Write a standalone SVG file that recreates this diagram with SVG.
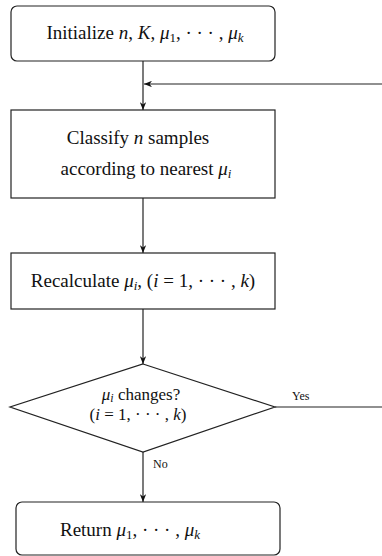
<svg xmlns="http://www.w3.org/2000/svg" width="382" height="556" viewBox="0 0 382 556">
<style>
.box{fill:#fff;stroke:#222;stroke-width:1.2}
.t{font-family:"Liberation Serif","DejaVu Serif",serif;font-size:19px;fill:#111;text-anchor:middle}
.d{font-size:17px}
.i{font-style:italic}
.s{font-size:13px}
.lbl{font-family:"Liberation Serif","DejaVu Serif",serif;font-size:12px;fill:#111}
.ln{fill:none;stroke:#222;stroke-width:1.2}
</style>
<defs>
<marker id="ah" viewBox="0 0 10 8" refX="10" refY="4" markerWidth="8" markerHeight="6.4" orient="auto" markerUnits="userSpaceOnUse">
<path d="M0,0 L10,4 L0,8 L3,4 Z" fill="#111"/>
</marker>
</defs>
<g id="connectors">
<line class="ln" x1="143" y1="61" x2="143" y2="110" marker-end="url(#ah)"/>
<line class="ln" x1="382" y1="84" x2="144" y2="84" marker-end="url(#ah)"/>
<line class="ln" x1="143" y1="198" x2="143" y2="253" marker-end="url(#ah)"/>
<line class="ln" x1="143" y1="309" x2="143" y2="364" marker-end="url(#ah)"/>
<line class="ln" x1="275" y1="407" x2="382" y2="407"/>
<line class="ln" x1="143" y1="452" x2="143" y2="502" marker-end="url(#ah)"/>
<text class="lbl" x="292" y="400">Yes</text>
<text class="lbl" x="153" y="468">No</text>
</g>
<g id="init">
<rect class="box" x="11" y="6" width="264" height="55" rx="6"/>
<text class="t" x="145" y="39">Initialize <tspan class="i">n</tspan>, <tspan class="i">K</tspan>, <tspan class="i">μ</tspan><tspan class="s" dy="3">1</tspan><tspan dy="-3">, · · · , </tspan><tspan class="i">μ</tspan><tspan class="s i" dy="3">k</tspan></text>
</g>
<g id="classify">
<rect class="box" x="11" y="110" width="264" height="88"/>
<text class="t" x="138" y="144">Classify <tspan class="i">n</tspan> samples</text>
<text class="t" x="146" y="175">according to nearest <tspan class="i">μ</tspan><tspan class="s i" dy="3">i</tspan></text>
</g>
<g id="recalc">
<rect class="box" x="11" y="253" width="264" height="56"/>
<text class="t" x="143" y="287">Recalculate <tspan class="i">μ</tspan><tspan class="s i" dy="3">i</tspan><tspan dy="-3">, (</tspan><tspan class="i">i</tspan> = 1, · · · , <tspan class="i">k</tspan>)</text>
</g>
<g id="decision">
<polygon class="box" points="143,364 275,407 143,452 10,407"/>
<text class="t d" x="141" y="400"><tspan class="i">μ</tspan><tspan class="i" font-size="12" dy="2">i</tspan><tspan dy="-2"> changes?</tspan></text>
<text class="t d" x="138" y="420">(<tspan class="i">i</tspan> = 1, · · · , <tspan class="i">k</tspan>)</text>
</g>
<g id="return">
<rect class="box" x="16" y="502" width="264" height="53" rx="6"/>
<text class="t" x="130" y="536">Return <tspan class="i">μ</tspan><tspan class="s" dy="3">1</tspan><tspan dy="-3">, · · · , </tspan><tspan class="i">μ</tspan><tspan class="s i" dy="3">k</tspan></text>
</g>
</svg>
